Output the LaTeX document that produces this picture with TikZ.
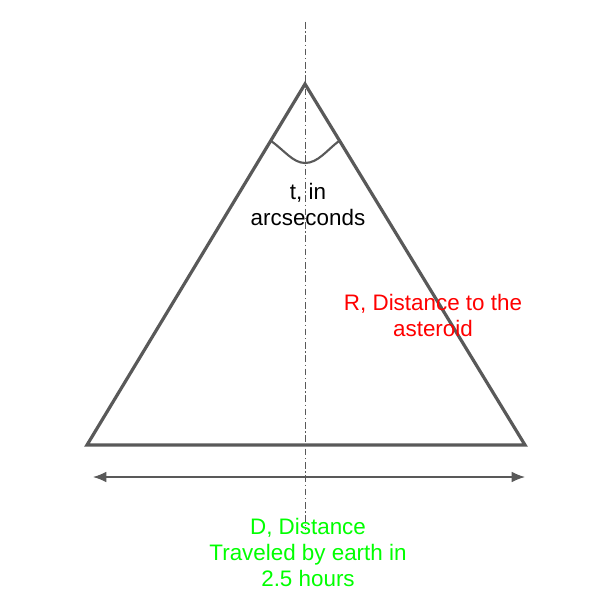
\documentclass[tikz,border=0pt]{standalone}
\usepackage{fontspec}
\setmainfont{Liberation Sans}
\usetikzlibrary{arrows.meta}

\definecolor{edgegray}{HTML}{595959}
\definecolor{labelred}{HTML}{FF0000}
\definecolor{labelgreen}{HTML}{00FF00}

\tikzset{
  side/.style={draw=edgegray, line width=2.4pt, line join=miter},
  axisline/.style={draw=edgegray, line width=0.6pt, dash pattern=on 5pt off 2pt on 1pt off 2pt},
  span/.style={draw=edgegray, line width=1pt, {Latex[length=10pt,width=8pt]}-{Latex[length=10pt,width=8pt]}},
  lbl/.style={align=center, font=\fontsize{16.8}{19.5}\selectfont, inner sep=0pt}
}

\begin{document}
\begin{tikzpicture}[x=0.75pt, y=-0.75pt]
    \useasboundingbox (0,0) rectangle (609,602);
    \coordinate (apex) at (305,84);
    \coordinate (left) at (87,445);
    \coordinate (right) at (525,445);
    \coordinate (axtop) at (305,22);
    \coordinate (axbot) at (305,530);
    \coordinate (arcl) at (271,141);
    \coordinate (arcm) at (305,163);
    \coordinate (arcr) at (339,141);
    \coordinate (spanl) at (93,477);
    \coordinate (spanr) at (525,477);
    \draw[axisline] (axtop) -- (axbot);
    \draw[side] (apex) -- (right) -- (left) -- cycle;
    \draw[edgegray, line width=1.6pt] (arcl) .. controls (284,150) and (293,163) .. (arcm)
        .. controls (318,163) and (327,150) .. (arcr);
    \draw[span] (spanl) -- (spanr);
    \node[lbl] (angle) at (308,204) {t, in\\arcseconds};
    \node[lbl, text=labelred] (dist) at (433,315) {R, Distance to the\\asteroid};
    \node[lbl, text=labelgreen] (base) at (308,552) {D, Distance\\Traveled by earth in\\2.5 hours};
  \end{tikzpicture}
\end{document}
